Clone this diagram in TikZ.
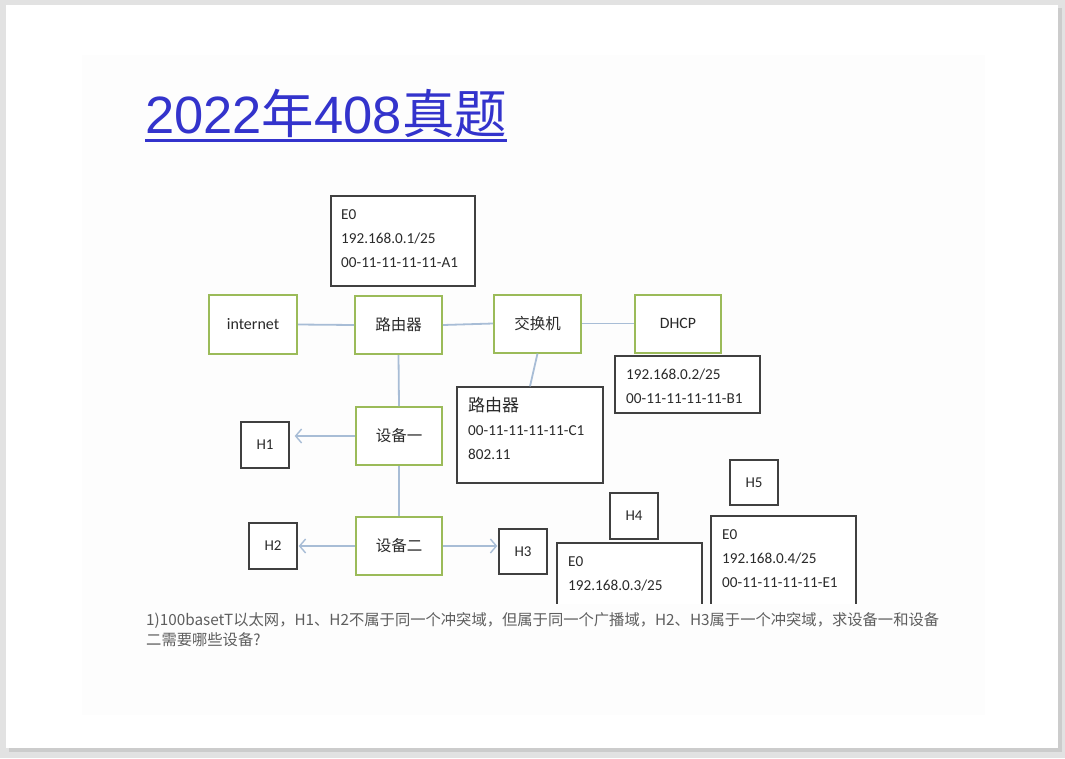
\documentclass[tikz,border=0pt]{standalone}
\usepackage{fontspec}
\setmainfont{Carlito}
\newfontfamily\cjk{Noto Sans CJK SC}
\newfontfamily\titlelat{Liberation Sans}
\usetikzlibrary{arrows.meta,calc}

\definecolor{pagegray}{HTML}{E2E2E2}
\definecolor{shadowgray}{HTML}{CCCCCC}
\definecolor{photowhite}{HTML}{FDFDFD}
\definecolor{titleblue}{HTML}{3333CC}
\definecolor{boxgreen}{HTML}{9BBB59}
\definecolor{boxgray}{HTML}{404040}
\definecolor{linkblue}{HTML}{A8BDD6}
\definecolor{textgray}{HTML}{2A2A2A}
\definecolor{notegray}{HTML}{5E5E5E}

\tikzset{
  gbox/.style={draw=boxgreen, line width=2pt, fill=white, text=textgray,
    minimum width=87pt, minimum height=58pt, inner sep=0pt},
  kbox/.style={draw=boxgray, line width=1.4pt, fill=white, inner sep=0pt},
  hostbox/.style={kbox, minimum width=48pt, minimum height=46pt, text=textgray,
    font=\fontsize{15}{18}\selectfont},
  info/.style={anchor=north west, align=left, inner sep=0pt, text=textgray,
    font=\fontsize{15.2}{24}\selectfont},
  link/.style={draw=linkblue, line width=1.8pt},
  feed/.style={link, -{Straight Barb[length=6pt,width=14pt,line width=1.4pt]}},
  zh/.style={font=\cjk\fontsize{15.5}{18}\selectfont},
}

\begin{document}
\begin{tikzpicture}[x=1pt,y=-1pt]
\useasboundingbox (0,0) rectangle (1065,758);

% slide with its drop shadow
\fill[pagegray] (0,0) rectangle (1065,758);
\fill[shadowgray] (9,8) rectangle (1062,752);
\fill[white] (6,5) rectangle (1058,748);
\fill[photowhite] (82,55) rectangle (985,715);

% title
\node[anchor=base west, inner sep=0pt, text=titleblue,
      font=\fontsize{52.5}{60}\selectfont] (title) at (145,133)
  {\titlelat 2022\cjk 年\titlelat 408\cjk 真题};
\draw[titleblue, line width=3.2pt]
  ($(title.base west)+(0,7.5)$) -- ($(title.base east)+(0,7.5)$);

% top row of devices
\node[gbox, minimum width=88pt, minimum height=59pt,
      font=\fontsize{16}{18}\selectfont] (inet) at (253,324.5) {internet};
\node[gbox, zh] (r1) at (398.5,325) {路由器};
\node[gbox, zh] (sw) at (537.5,323.5) {交换机};
\node[gbox, minimum width=86pt, font=\fontsize{15.8}{18}\selectfont] (dhcp) at (678,323.5) {DHCP};

% devices one and two
\node[gbox, minimum width=86pt, zh] (d1) at (399,436) {设备一};
\node[gbox, minimum width=86pt, zh] (d2) at (399,546) {设备二};

% address boxes
\node[kbox, minimum width=144pt, minimum height=90pt] (e0a) at (403,241) {};
\node[info] (e0atext) at (341,202.2) {\strut E0\\192.168.0.1/25\\00-11-11-11-11-A1};

\node[kbox, minimum width=145pt, minimum height=57pt] (dinfo) at (687.5,384.5) {};
\node[info] (dinfotext) at (626,362.2) {\strut 192.168.0.2/25\\00-11-11-11-11-B1};

\node[kbox, minimum width=146pt, minimum height=96pt] (rt2) at (530,435) {};
\node[info] (rt2text) at (468,394.2)
  {\strut{\cjk\fontsize{17}{24}\selectfont 路由器}\\00-11-11-11-11-C1\\802.11};

% hosts
\node[hostbox] (h1) at (265,445) {H1};
\node[hostbox] (h2) at (273,546) {H2};
\node[hostbox, minimum height=45pt] (h3) at (523,551.5) {H3};
\node[hostbox] (h4) at (634,516) {H4};
\node[hostbox, minimum height=45pt] (h5) at (754,482.5) {H5};

% host address boxes, cut off at the lower edge of the figure
\begin{scope}
  \clip (0,0) rectangle (1065,603);
  \node[kbox, minimum width=145pt, minimum height=90pt] (e0d) at (629.5,588) {};
  \node[info] (e0dtext) at (568,549.2) {\strut E0\\192.168.0.3/25};
  \node[kbox, minimum width=145pt, minimum height=90pt] (e0e) at (783.5,561) {};
  \node[info] (e0etext) at (722,522.2) {\strut E0\\192.168.0.4/25\\00-11-11-11-11-E1};
\end{scope}

% links
\draw[link] (inet.east) -- (r1.west);
\draw[link] (r1.east) -- (sw.west);
\draw[link] (sw.east) -- (dhcp.west);
\draw[link] (r1.south) -- (d1.north);
\draw[link] (d1.south) -- (d2.north);
\draw[link] (sw.south) -- (rt2.north);
\draw[feed, shorten >=5pt] (d1.west) -- (d1.west -| h1.east);
\draw[feed, shorten >=1pt] (d2.west) -- (d2.west -| h2.east);
\draw[feed, shorten >=1pt] (d2.east) -- (d2.east -| h3.west);

% question
\node[anchor=base west, align=left, inner sep=0pt, text=notegray,
      font=\cjk\fontsize{15.3}{20}\selectfont] (question) at (146,645)
  {1)100basetT以太网，H1、H2不属于同一个冲突域，但属于同一个广播域，H2、H3属于一个冲突域，求设备一和设备\\二需要哪些设备?};
\end{tikzpicture}
\end{document}
